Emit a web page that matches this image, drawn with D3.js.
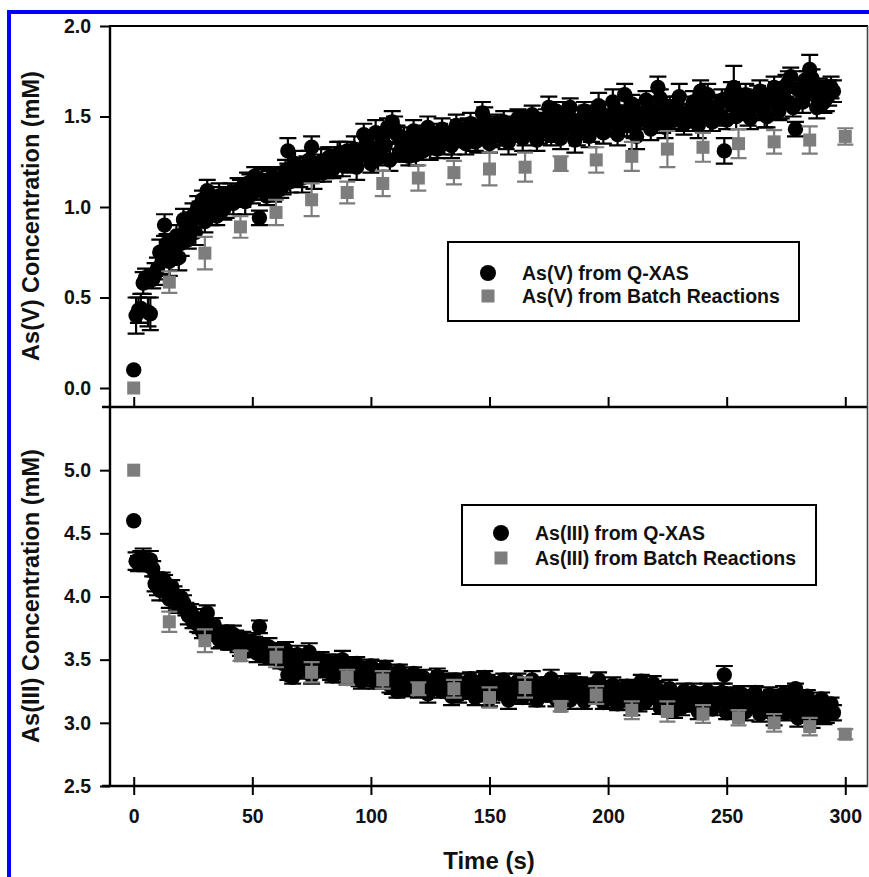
<!DOCTYPE html>
<html><head><meta charset="utf-8">
<script src="https://cdn.jsdelivr.net/npm/d3@7"></script>
<style>body{margin:0;background:#fff}svg{display:block}text{font-family:Arial,"Liberation Sans",sans-serif;font-weight:bold;fill:#111}</style>
</head><body><svg id="c" width="869" height="877"></svg>
<script>
// ---------- DATA ----------
// Q-XAS spectra, odd-second acquisitions
const qxasTime = [0,
 1,3,5,7,9,11,13,15,17,19,
 21,23,25,27,29,31,33,35,37,39,
 41,43,45,47,49,51,53,55,57,59,
 61,63,65,67,69,71,73,75,77,79,
 81,83,85,87,89,91,93,95,97,99,
 101,103,105,107,109,111,113,115,117,119,
 121,123,125,127,129,131,133,135,137,139,
 141,143,145,147,149,151,153,155,157,159,
 161,163,165,167,169,171,173,175,177,179,
 181,183,185,187,189,191,193,195,197,199,
 201,203,205,207,209,211,213,215,217,219,
 221,223,225,227,229,231,233,235,237,239,
 241,243,245,247,249,251,253,255,257,259,
 261,263,265,267,269,271,273,275,277,279,
 281,283,285,287,289,291,293,295];

const asVQxas = [0.10,
 0.40,0.44,0.61,0.41,0.63,0.75,0.90,0.70,0.78,0.72,
 0.93,0.82,0.95,1.00,1.04,1.09,0.97,0.95,1.05,1.02,
 1.08,1.06,1.10,1.03,1.12,1.17,0.94,1.10,1.13,1.08,
 1.15,1.12,1.31,1.18,1.20,1.16,1.22,1.33,1.19,1.25,
 1.22,1.28,1.24,1.30,1.27,1.25,1.32,1.28,1.40,1.34,
 1.30,1.27,1.38,1.44,1.47,1.40,1.33,1.31,1.36,1.29,
 1.35,1.40,1.33,1.37,1.41,1.35,1.39,1.36,1.42,1.38,
 1.44,1.40,1.37,1.52,1.43,1.39,1.46,1.41,1.38,1.45,
 1.42,1.48,1.40,1.44,1.47,1.41,1.45,1.55,1.43,1.47,
 1.52,1.44,1.48,1.40,1.46,1.50,1.43,1.47,1.52,1.45,
 1.49,1.54,1.46,1.62,1.50,1.44,1.52,1.48,1.55,1.50,
 1.66,1.46,1.53,1.49,1.56,1.51,1.47,1.54,1.50,1.64,
 1.52,1.48,1.55,1.51,1.31,1.58,1.66,1.54,1.60,1.52,
 1.57,1.62,1.55,1.50,1.59,1.63,1.56,1.67,1.72,1.43,
 1.64,1.70,1.76,1.62,1.66,1.58,1.63,1.64];

const asVQxasErr = [0,
 0.10,0.08,0.05,0.09,0.06,0.07,0.06,0.08,0.05,0.07,
 0.06,0.05,0.07,0.06,0.05,0.06,0.07,0.05,0.06,0.08,
 0.05,0.06,0.05,0.07,0.06,0.05,0.04,0.06,0.07,0.05,
 0.06,0.05,0.07,0.06,0.05,0.08,0.06,0.06,0.05,0.07,
 0.06,0.05,0.07,0.06,0.05,0.06,0.07,0.05,0.06,0.06,
 0.05,0.07,0.06,0.05,0.06,0.05,0.07,0.06,0.05,0.06,
 0.06,0.05,0.07,0.06,0.05,0.06,0.05,0.07,0.06,0.05,
 0.05,0.06,0.07,0.06,0.05,0.06,0.05,0.07,0.06,0.05,
 0.06,0.05,0.06,0.07,0.05,0.06,0.05,0.06,0.07,0.05,
 0.06,0.05,0.07,0.06,0.05,0.06,0.07,0.05,0.06,0.06,
 0.05,0.06,0.07,0.06,0.05,0.06,0.07,0.05,0.06,0.06,
 0.06,0.05,0.06,0.07,0.05,0.06,0.05,0.07,0.06,0.06,
 0.05,0.06,0.07,0.06,0.07,0.05,0.12,0.06,0.05,0.07,
 0.06,0.05,0.07,0.06,0.05,0.06,0.07,0.06,0.05,0.04,
 0.06,0.05,0.08,0.06,0.05,0.06,0.07,0.06];

const asIIIQxas = [4.60,
 4.28,4.30,4.25,4.29,4.10,4.05,4.12,3.98,4.02,3.92,
 3.95,3.85,3.80,3.78,3.72,3.87,3.74,3.70,3.66,3.72,
 3.64,3.68,3.60,3.63,3.58,3.62,3.76,3.55,3.60,3.52,
 3.57,3.50,3.38,3.36,3.54,3.48,3.52,3.37,3.46,3.50,
 3.44,3.40,3.47,3.42,3.38,3.45,3.40,3.36,3.43,3.39,
 3.35,3.41,3.37,3.33,3.30,3.25,3.36,3.32,3.28,3.34,
 3.30,3.27,3.33,3.29,3.35,3.26,3.31,3.28,3.22,3.30,
 3.26,3.32,3.24,3.28,3.33,3.22,3.27,3.30,3.25,3.21,
 3.28,3.24,3.30,3.26,3.22,3.29,3.25,3.31,3.23,3.27,
 3.21,3.26,3.33,3.24,3.28,3.22,3.30,3.26,3.21,3.27,
 3.23,3.18,3.25,3.21,3.27,3.19,3.15,3.24,3.20,3.31,
 3.26,3.17,3.14,3.22,3.18,3.12,3.20,3.16,3.23,3.19,
 3.13,3.21,3.17,3.22,3.38,3.15,3.19,3.12,3.18,3.14,
 3.20,3.16,3.10,3.17,3.21,3.13,3.18,3.08,3.14,3.27,
 3.11,3.06,3.12,3.09,3.15,3.05,3.13,3.08];

const asIIIQxasErr = [0,
 0.07,0.06,0.05,0.07,0.06,0.08,0.05,0.07,0.06,0.05,
 0.06,0.07,0.05,0.06,0.05,0.06,0.07,0.05,0.06,0.05,
 0.06,0.05,0.07,0.06,0.05,0.06,0.05,0.06,0.07,0.05,
 0.06,0.05,0.04,0.05,0.07,0.06,0.05,0.06,0.05,0.06,
 0.05,0.06,0.07,0.05,0.06,0.05,0.06,0.07,0.05,0.06,
 0.06,0.05,0.06,0.05,0.07,0.05,0.06,0.05,0.06,0.07,
 0.05,0.06,0.05,0.07,0.06,0.05,0.06,0.05,0.06,0.06,
 0.06,0.05,0.07,0.06,0.05,0.06,0.05,0.06,0.07,0.05,
 0.05,0.06,0.05,0.06,0.07,0.05,0.06,0.05,0.06,0.06,
 0.06,0.05,0.06,0.07,0.05,0.06,0.05,0.06,0.05,0.06,
 0.05,0.06,0.07,0.05,0.06,0.05,0.06,0.07,0.05,0.06,
 0.06,0.05,0.06,0.05,0.07,0.06,0.05,0.06,0.05,0.06,
 0.05,0.06,0.05,0.06,0.07,0.05,0.06,0.05,0.06,0.05,
 0.06,0.05,0.06,0.07,0.05,0.06,0.05,0.06,0.07,0.04,
 0.06,0.05,0.06,0.07,0.05,0.06,0.05,0.06];

// Q-XAS spectra, even-second acquisitions
const qxasTimeB = [
 2,4,6,8,10,12,14,16,18,20,
 22,24,26,28,30,32,34,36,38,40,
 42,44,46,48,50,52,54,56,58,60,
 62,64,66,68,70,72,74,76,78,80,
 82,84,86,88,90,92,94,96,98,100,
 102,104,106,108,110,112,114,116,118,120,
 122,124,126,128,130,132,134,136,138,140,
 142,144,146,148,150,152,154,156,158,160,
 162,164,166,168,170,172,174,176,178,180,
 182,184,186,188,190,192,194,196,198,200,
 202,204,206,208,210,212,214,216,218,220,
 222,224,226,228,230,232,234,236,238,240,
 242,244,246,248,250,252,254,256,258,260,
 262,264,266,268,270,272,274,276,278,280,
 282,284,286,288,290,292,294];

const asVQxasB = [
 0.43,0.58,0.42,0.60,0.66,0.70,0.80,0.74,0.84,0.80,
 0.88,0.91,0.86,0.98,0.92,1.03,1.00,1.06,0.99,1.04,
 1.02,1.09,1.05,1.13,1.07,1.11,1.15,1.06,1.16,1.12,
 1.10,1.20,1.14,1.24,1.16,1.21,1.26,1.17,1.23,1.19,
 1.27,1.21,1.29,1.23,1.31,1.26,1.22,1.30,1.35,1.24,
 1.41,1.29,1.34,1.26,1.43,1.30,1.38,1.28,1.42,1.33,
 1.31,1.44,1.36,1.32,1.43,1.38,1.34,1.45,1.40,1.35,
 1.46,1.36,1.42,1.48,1.35,1.44,1.39,1.47,1.36,1.43,
 1.49,1.38,1.46,1.51,1.37,1.44,1.49,1.40,1.53,1.38,
 1.47,1.55,1.37,1.45,1.53,1.39,1.50,1.56,1.41,1.48,
 1.58,1.40,1.51,1.45,1.57,1.39,1.49,1.59,1.43,1.52,
 1.60,1.44,1.55,1.48,1.61,1.46,1.52,1.58,1.45,1.56,
 1.62,1.47,1.54,1.59,1.48,1.63,1.50,1.57,1.62,1.49,
 1.56,1.64,1.51,1.60,1.66,1.53,1.61,1.69,1.55,1.65,
 1.58,1.68,1.71,1.55,1.64,1.60,1.66];

const asVQxasErrB = [
 0.07,0.06,0.08,0.05,0.06,0.07,0.05,0.06,0.06,0.07,
 0.05,0.06,0.07,0.05,0.06,0.06,0.05,0.07,0.06,0.05,
 0.06,0.07,0.05,0.06,0.05,0.07,0.06,0.05,0.06,0.07,
 0.05,0.06,0.06,0.07,0.05,0.06,0.05,0.07,0.06,0.05,
 0.06,0.05,0.07,0.06,0.05,0.06,0.07,0.05,0.06,0.05,
 0.07,0.06,0.05,0.06,0.07,0.05,0.06,0.05,0.06,0.07,
 0.05,0.06,0.07,0.05,0.06,0.05,0.07,0.06,0.05,0.06,
 0.06,0.05,0.06,0.07,0.05,0.06,0.05,0.06,0.07,0.05,
 0.05,0.07,0.06,0.05,0.06,0.07,0.05,0.06,0.05,0.06,
 0.06,0.05,0.07,0.06,0.05,0.06,0.05,0.07,0.06,0.05,
 0.07,0.06,0.05,0.06,0.05,0.07,0.06,0.05,0.06,0.07,
 0.05,0.06,0.06,0.05,0.07,0.06,0.05,0.06,0.07,0.05,
 0.06,0.05,0.07,0.06,0.05,0.06,0.07,0.05,0.06,0.06,
 0.05,0.06,0.07,0.05,0.06,0.05,0.07,0.06,0.05,0.06,
 0.06,0.07,0.05,0.06,0.05,0.07,0.06];

const asIIIQxasB = [
 4.26,4.31,4.27,4.22,4.08,4.14,4.03,4.08,3.96,3.99,
 3.90,3.88,3.83,3.76,3.81,3.70,3.77,3.66,3.71,3.64,
 3.70,3.61,3.66,3.57,3.64,3.55,3.61,3.52,3.58,3.56,
 3.48,3.58,3.45,3.53,3.41,3.49,3.56,3.44,3.51,3.42,
 3.48,3.37,3.44,3.50,3.35,3.42,3.47,3.33,3.41,3.45,
 3.32,3.39,3.44,3.30,3.37,3.41,3.27,3.35,3.39,3.26,
 3.36,3.23,3.31,3.37,3.25,3.33,3.21,3.34,3.28,3.24,
 3.35,3.20,3.29,3.36,3.19,3.31,3.25,3.34,3.18,3.29,
 3.33,3.20,3.27,3.34,3.18,3.30,3.22,3.35,3.19,3.28,
 3.32,3.18,3.25,3.31,3.17,3.29,3.23,3.34,3.16,3.25,
 3.30,3.15,3.22,3.29,3.13,3.25,3.33,3.17,3.23,3.28,
 3.12,3.22,3.27,3.10,3.21,3.25,3.14,3.24,3.09,3.20,
 3.25,3.11,3.19,3.24,3.08,3.22,3.16,3.23,3.09,3.20,
 3.24,3.07,3.18,3.22,3.05,3.17,3.23,3.10,3.19,3.04,
 3.16,3.21,3.03,3.14,3.19,3.06,3.15];

const asIIIQxasErrB = [
 0.06,0.07,0.05,0.06,0.07,0.05,0.06,0.05,0.07,0.06,
 0.05,0.06,0.07,0.05,0.06,0.05,0.06,0.07,0.05,0.06,
 0.07,0.05,0.06,0.05,0.06,0.07,0.05,0.06,0.05,0.06,
 0.05,0.06,0.07,0.05,0.06,0.05,0.07,0.06,0.05,0.06,
 0.06,0.05,0.06,0.07,0.05,0.06,0.05,0.06,0.07,0.05,
 0.05,0.06,0.05,0.06,0.07,0.05,0.06,0.07,0.05,0.06,
 0.06,0.07,0.05,0.06,0.05,0.06,0.07,0.05,0.06,0.05,
 0.05,0.06,0.07,0.05,0.06,0.05,0.06,0.05,0.07,0.06,
 0.06,0.05,0.06,0.07,0.05,0.06,0.05,0.07,0.06,0.05,
 0.05,0.07,0.06,0.05,0.06,0.05,0.07,0.06,0.05,0.06,
 0.06,0.05,0.06,0.05,0.07,0.06,0.05,0.06,0.07,0.05,
 0.05,0.06,0.07,0.06,0.05,0.06,0.05,0.07,0.06,0.05,
 0.06,0.05,0.06,0.07,0.05,0.06,0.05,0.06,0.07,0.05,
 0.05,0.06,0.05,0.06,0.07,0.05,0.06,0.05,0.06,0.07,
 0.06,0.05,0.07,0.06,0.05,0.06,0.05];

const batchTime = [0,15,30,45,60,75,90,105,120,135,150,165,180,195,210,225,240,255,270,285,300];
const asVBatch = [0.00,0.585,0.745,0.89,0.97,1.04,1.08,1.13,1.16,1.19,1.21,1.22,1.24,1.26,1.28,1.32,1.33,1.35,1.36,1.37,1.39];
const asVBatchErr = [0,0.06,0.09,0.06,0.07,0.09,0.06,0.07,0.07,0.065,0.09,0.08,0.04,0.07,0.08,0.10,0.08,0.08,0.065,0.075,0.045];
const asIIIBatch = [5.00,3.80,3.65,3.53,3.52,3.40,3.36,3.34,3.27,3.27,3.20,3.28,3.13,3.22,3.10,3.09,3.07,3.04,3.00,2.97,2.91];
const asIIIBatchErr = [0,0.08,0.09,0.04,0.08,0.08,0.06,0.07,0.05,0.07,0.08,0.08,0.04,0.07,0.07,0.08,0.07,0.06,0.07,0.07,0.04];

const xTicks = [0,50,100,150,200,250,300];
const topYTicks = [0.0,0.5,1.0,1.5,2.0];
const botYTicks = [2.5,3.0,3.5,4.0,4.5,5.0];

const legendTop = ["As(V) from Q-XAS","As(V) from Batch Reactions"];
const legendBot = ["As(III) from Q-XAS","As(III) from Batch Reactions"];
const xTitle = "Time (s)";
const yTitleTop = "As(V) Concentration (mM)";
const yTitleBot = "As(III) Concentration (mM)";

// ---------- DRAW ----------
const GRAY = "#7d7d7d";
const svg = d3.select("#c");
svg.append("rect").attr("width",869).attr("height",877).attr("fill","#fff");

const x = d3.scaleLinear().domain([-10,310]).range([110,869]);
const yTop = d3.scaleLinear().domain([-0.105,2.0]).range([407,26]);
const yBot = d3.scaleLinear().domain([2.5,5.5]).range([786,407]);
const fmt = d3.format(".1f");

function styleAxis(g){
  g.select(".domain").remove();
  g.selectAll(".tick line").attr("stroke","#000").attr("stroke-width",2);
  g.selectAll(".tick text").attr("font-size",19.5).attr("fill","#111")
    .style("font-family","Arial, 'Liberation Sans', sans-serif").style("font-weight","bold");
}

// y axes
svg.append("g").attr("transform","translate(110,0)")
  .call(d3.axisLeft(yTop).tickValues(topYTicks).tickFormat(fmt).tickSize(10).tickPadding(9)).call(styleAxis);
svg.append("g").attr("transform","translate(110,0)")
  .call(d3.axisLeft(yBot).tickValues(botYTicks).tickFormat(fmt).tickSize(10).tickPadding(9)).call(styleAxis);

// x axes
svg.append("g").attr("transform","translate(0,407)")
  .call(d3.axisTop(x).tickValues(xTicks).tickFormat("").tickSize(10)).call(styleAxis);
svg.append("g").attr("transform","translate(0,786)")
  .call(d3.axisTop(x).tickValues(xTicks).tickFormat("").tickSize(9)).call(styleAxis);
svg.append("g").attr("transform","translate(0,786)")
  .call(d3.axisBottom(x).tickValues(xTicks).tickFormat(d3.format("d")).tickSize(9).tickPadding(14)).call(styleAxis);

// frame lines
const frame = svg.append("g").attr("stroke","#000").attr("fill","none");
frame.append("line").attr("x1",110).attr("x2",110).attr("y1",25).attr("y2",787).attr("stroke-width",2.4);
frame.append("line").attr("x1",109).attr("x2",868).attr("y1",26).attr("y2",26).attr("stroke-width",2.2);
frame.append("line").attr("x1",102).attr("x2",868).attr("y1",407).attr("y2",407).attr("stroke-width",2.4);
frame.append("line").attr("x1",102).attr("x2",868).attr("y1",786).attr("y2",786).attr("stroke-width",2.4);
frame.append("line").attr("x1",867.5).attr("x2",867.5).attr("y1",26).attr("y2",787).attr("stroke-width",1.6).attr("stroke","#444");

// data helpers
function rows(ts, vs, es){ return ts.map((t,i)=>({t, v:vs[i], e:es[i]})); }
function errBars(g, d, yS, color, capW){
  g.append("g").selectAll("path").data(d.filter(d=>d.e>0)).join("path")
    .attr("d", d=>{const cx=x(d.t), y1=yS(d.v-d.e), y2=yS(d.v+d.e);
      return `M${cx},${y1}V${y2}M${cx-capW/2},${y1}H${cx+capW/2}M${cx-capW/2},${y2}H${cx+capW/2}`;})
    .attr("stroke",color).attr("stroke-width",2.2).attr("fill","none");
}
function circles(g, d, yS){
  g.append("g").selectAll("circle").data(d).join("circle")
    .attr("cx",d=>x(d.t)).attr("cy",d=>yS(d.v)).attr("r",7.7).attr("fill","#000");
}
function squares(g, d, yS){
  const s=13;
  g.append("g").selectAll("rect").data(d).join("rect")
    .attr("x",d=>x(d.t)-s/2).attr("y",d=>yS(d.v)-s/2).attr("width",s).attr("height",s).attr("fill",GRAY);
}

const qV = rows(qxasTime, asVQxas, asVQxasErr).concat(rows(qxasTimeB, asVQxasB, asVQxasErrB)).sort((a,b)=>a.t-b.t);
const qIII = rows(qxasTime, asIIIQxas, asIIIQxasErr).concat(rows(qxasTimeB, asIIIQxasB, asIIIQxasErrB)).sort((a,b)=>a.t-b.t);
const bV = rows(batchTime, asVBatch, asVBatchErr);
const bIII = rows(batchTime, asIIIBatch, asIIIBatchErr);

const panelTop = svg.append("g");
errBars(panelTop, qV, yTop, "#000", 17);
circles(panelTop, qV, yTop);
errBars(panelTop, bV, yTop, GRAY, 16);
squares(panelTop, bV, yTop);

const panelBot = svg.append("g");
errBars(panelBot, qIII, yBot, "#000", 17);
circles(panelBot, qIII, yBot);
errBars(panelBot, bIII, yBot, GRAY, 16);
squares(panelBot, bIII, yBot);

// legends
function legend(bx, by, bw, bh, symX, rowsY, labels){
  const g = svg.append("g");
  g.append("rect").attr("x",bx).attr("y",by).attr("width",bw).attr("height",bh)
    .attr("fill","#fff").attr("stroke","#000").attr("stroke-width",2);
  g.append("circle").attr("cx",symX).attr("cy",rowsY[0]).attr("r",8).attr("fill","#000");
  g.append("rect").attr("x",symX-6.5).attr("y",rowsY[1]-6.5).attr("width",13).attr("height",13).attr("fill",GRAY);
  labels.forEach((l,i)=>{
    g.append("text").attr("x",symX+34).attr("y",rowsY[i]+7).attr("font-size",19.5).text(l);
  });
}
legend(448, 242, 351, 79, 488, [273, 296], legendTop);
legend(462, 505, 354, 80, 501, [533, 558], legendBot);

// titles
svg.append("text").attr("transform","translate(39,216) rotate(-90)").attr("text-anchor","middle")
  .attr("font-size",23.5).text(yTitleTop);
svg.append("text").attr("transform","translate(39,596) rotate(-90)").attr("text-anchor","middle")
  .attr("font-size",23.5).text(yTitleBot);
svg.append("text").attr("x",489).attr("y",869).attr("text-anchor","middle").attr("font-size",24).text(xTitle);

// blue border
svg.append("rect").attr("x",7).attr("y",10).attr("width",4).attr("height",867).attr("fill","#0000ff");
svg.append("rect").attr("x",7).attr("y",10).attr("width",862).attr("height",4).attr("fill","#0000ff");
</script></body></html>
